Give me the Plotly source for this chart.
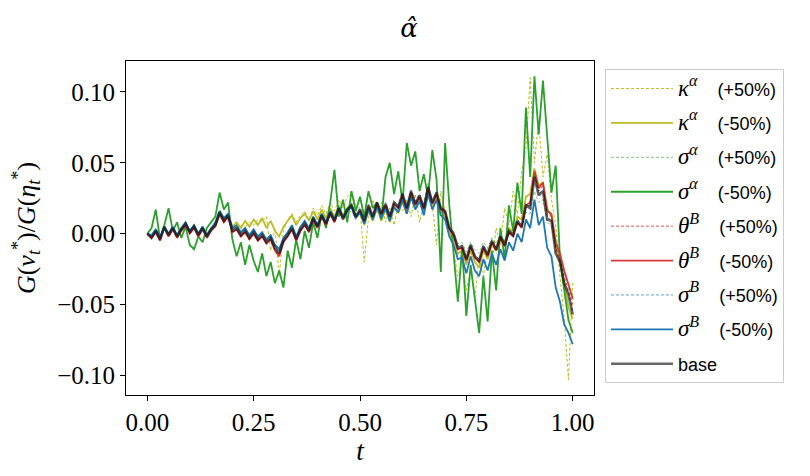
import numpy as np
import plotly.graph_objects as go

# time grid (101 sample points on [0, 1])
t = np.linspace(0, 1, 101)

# G(nu*)/G(eta*) paths
base = [
    0.000, -0.003, 0.002, -0.004, 0.005, -0.001, 0.004, -0.002, 0.003, 0.007,
    0.001, 0.005, -0.001, 0.004, -0.002, 0.003, 0.006, 0.015, 0.009, 0.013,
    0.002, 0.004, -0.001, 0.002, -0.003, 0.001, -0.004, -0.001, -0.006, -0.003,
    -0.010, -0.014, -0.005, -0.001, 0.004, -0.004, 0.003, 0.007, 0.002, 0.011,
    0.005, 0.013, 0.007, 0.015, 0.009, 0.018, 0.011, 0.017, 0.020, 0.012,
    0.017, 0.009, 0.020, 0.012, 0.022, 0.014, 0.021, 0.012, 0.022, 0.019,
    0.028, 0.018, 0.030, 0.021, 0.027, 0.018, 0.033, 0.022, 0.029, 0.018,
    0.016, 0.004, 0.000, -0.010, -0.009, -0.018, -0.008, -0.016, -0.019, -0.009,
    -0.015, -0.005, -0.011, -0.002, -0.008, 0.002, -0.001, 0.009, 0.005, 0.020,
    0.018, 0.040, 0.027, 0.030, 0.010, 0.009, -0.014, -0.020, -0.035, -0.043,
    -0.057,
]

kappa_plus = [
    0.000, -0.002, 0.002, -0.003, 0.005, 0.000, 0.004, -0.001, 0.003, 0.007,
    0.002, 0.005, 0.000, 0.004, -0.001, 0.004, 0.007, 0.016, 0.011, 0.013,
    0.006, 0.004, 0.006, 0.005, 0.008, 0.006, 0.010, 0.008, 0.012, -0.012,
    0.004, -0.030, 0.002, 0.010, 0.014, 0.008, 0.013, 0.016, 0.010, 0.018,
    0.013, 0.020, 0.014, 0.022, 0.016, 0.024, 0.018, 0.026, 0.030, 0.020,
    0.018, -0.020, 0.012, 0.024, 0.014, 0.022, 0.008, 0.018, 0.006, 0.020,
    0.016, 0.024, 0.012, 0.028, 0.008, 0.022, 0.036, 0.020, -0.008, 0.030,
    0.016, 0.004, -0.012, -0.030, -0.020, -0.040, -0.025, -0.045, -0.018, -0.030,
    -0.010, -0.022, 0.004, -0.008, 0.018, 0.006, 0.030, 0.014, 0.044, 0.060,
    0.110, 0.050, 0.080, 0.040, 0.056, 0.024, 0.006, -0.030, -0.060, -0.103,
    -0.034,
]

kappa_minus = [
    0.000, -0.002, 0.003, -0.003, 0.005, 0.000, 0.004, -0.001, 0.004, 0.008,
    0.002, 0.006, 0.000, 0.005, -0.001, 0.004, 0.007, 0.016, 0.010, 0.014,
    0.005, 0.008, 0.004, 0.009, 0.005, 0.010, 0.006, 0.011, 0.004, 0.009,
    0.002, -0.002, 0.005, 0.009, 0.013, 0.006, 0.011, 0.014, 0.009, 0.016,
    0.010, 0.017, 0.011, 0.018, 0.012, 0.020, 0.013, 0.018, 0.021, 0.013,
    0.015, 0.006, 0.016, 0.009, 0.018, 0.009, 0.017, 0.008, 0.018, 0.015,
    0.022, 0.014, 0.026, 0.018, 0.024, 0.014, 0.030, 0.020, 0.025, 0.016,
    0.012, 0.002, -0.004, -0.014, -0.012, -0.022, -0.012, -0.020, -0.024, -0.012,
    -0.018, -0.008, -0.012, -0.002, -0.006, 0.004, 0.001, 0.012, 0.010, 0.026,
    0.028, 0.046, 0.034, 0.036, 0.018, 0.012, -0.008, -0.018, -0.034, -0.052,
    -0.060,
]

sigma_a_plus = [
    0.000, -0.002, 0.001, -0.003, 0.004, -0.001, 0.003, -0.002, 0.002, 0.006,
    0.001, 0.004, -0.001, 0.003, -0.002, 0.002, 0.005, 0.012, 0.008, 0.010,
    0.002, 0.003, -0.001, 0.001, -0.003, 0.000, -0.004, -0.002, -0.005, -0.003,
    -0.008, -0.010, -0.004, -0.001, 0.003, -0.003, 0.002, 0.006, 0.002, 0.009,
    0.004, 0.011, 0.006, 0.012, 0.008, 0.015, 0.009, 0.014, 0.016, 0.010,
    0.014, 0.008, 0.016, 0.010, 0.018, 0.012, 0.017, 0.010, 0.018, 0.016,
    0.022, 0.015, 0.024, 0.017, 0.022, 0.015, 0.026, 0.018, 0.023, 0.015,
    0.012, 0.004, 0.000, -0.007, -0.006, -0.013, -0.006, -0.011, -0.014, -0.006,
    -0.010, -0.003, -0.007, 0.000, -0.005, 0.002, 0.000, 0.007, 0.004, 0.015,
    0.014, 0.030, 0.022, 0.024, 0.008, 0.006, -0.010, -0.016, -0.028, -0.035,
    -0.045,
]

sigma_a_minus = [
    0.000, 0.004, 0.017, -0.004, 0.006, 0.018, 0.002, 0.008, -0.003, 0.005,
    -0.008, -0.011, -0.002, -0.006, 0.004, 0.008, 0.012, 0.029, 0.017, 0.022,
    -0.004, -0.016, -0.006, -0.022, -0.008, -0.019, -0.027, -0.014, -0.030, -0.020,
    -0.035, -0.026, -0.038, -0.012, -0.024, -0.004, -0.018, 0.002, -0.010, 0.008,
    -0.003, 0.014, 0.004, 0.022, 0.045, 0.012, 0.024, 0.008, 0.030, 0.016,
    0.026, 0.012, 0.030, 0.018, 0.022, 0.010, 0.040, 0.050, 0.028, 0.044,
    0.022, 0.064, 0.048, 0.058, 0.030, 0.042, 0.026, 0.059, 0.038, -0.027,
    0.064, 0.020, -0.015, -0.048, -0.010, -0.058, -0.022, -0.045, -0.070, -0.030,
    -0.062, -0.012, -0.040, 0.004, -0.018, 0.020, 0.002, 0.036, 0.014, 0.089,
    0.040, 0.111, 0.070, 0.108, 0.068, 0.029, 0.048, -0.018, -0.040, -0.061,
    -0.070,
]

theta_plus = [
    0.000, -0.003, 0.001, -0.004, 0.004, -0.002, 0.003, -0.003, 0.002, 0.006,
    0.000, 0.004, -0.002, 0.003, -0.003, 0.002, 0.005, 0.013, 0.008, 0.012,
    0.001, 0.003, -0.002, 0.001, -0.004, 0.000, -0.005, -0.002, -0.007, -0.004,
    -0.011, -0.015, -0.006, -0.002, 0.003, -0.005, 0.002, 0.006, 0.001, 0.010,
    0.004, 0.012, 0.006, 0.014, 0.008, 0.017, 0.010, 0.016, 0.019, 0.011,
    0.016, 0.008, 0.019, 0.011, 0.021, 0.013, 0.020, 0.011, 0.021, 0.018,
    0.027, 0.017, 0.029, 0.020, 0.026, 0.017, 0.032, 0.021, 0.028, 0.017,
    0.014, 0.003, -0.001, -0.011, -0.010, -0.019, -0.009, -0.017, -0.020, -0.010,
    -0.016, -0.006, -0.012, -0.003, -0.009, 0.001, -0.002, 0.008, 0.004, 0.019,
    0.020, 0.042, 0.030, 0.034, 0.014, 0.012, -0.010, -0.018, -0.030, -0.040,
    -0.050,
]

theta_minus = [
    0.000, -0.003, 0.001, -0.005, 0.004, -0.002, 0.003, -0.003, 0.002, 0.006,
    0.000, 0.004, -0.002, 0.003, -0.003, 0.002, 0.005, 0.014, 0.008, 0.012,
    0.001, 0.003, -0.002, 0.001, -0.004, 0.000, -0.005, -0.002, -0.007, -0.004,
    -0.012, -0.016, -0.006, -0.002, 0.003, -0.005, 0.002, 0.006, 0.001, 0.010,
    0.004, 0.012, 0.006, 0.014, 0.008, 0.017, 0.010, 0.016, 0.019, 0.011,
    0.016, 0.008, 0.019, 0.011, 0.021, 0.013, 0.020, 0.011, 0.021, 0.018,
    0.027, 0.017, 0.029, 0.020, 0.026, 0.017, 0.032, 0.021, 0.028, 0.017,
    0.015, 0.003, -0.001, -0.011, -0.010, -0.019, -0.009, -0.017, -0.020, -0.010,
    -0.016, -0.006, -0.012, -0.003, -0.009, 0.001, -0.002, 0.008, 0.004, 0.020,
    0.022, 0.044, 0.032, 0.036, 0.016, 0.014, -0.006, -0.014, -0.026, -0.036,
    -0.046,
]

sigma_b_plus = [
    0.000, -0.002, 0.002, -0.003, 0.005, 0.000, 0.004, -0.001, 0.003, 0.007,
    0.001, 0.005, -0.001, 0.004, -0.001, 0.003, 0.006, 0.015, 0.010, 0.013,
    0.003, 0.005, 0.000, 0.003, -0.002, 0.002, -0.003, 0.000, -0.005, -0.002,
    -0.009, -0.013, -0.004, 0.000, 0.005, -0.003, 0.004, 0.008, 0.003, 0.012,
    0.006, 0.014, 0.008, 0.016, 0.010, 0.019, 0.012, 0.018, 0.021, 0.013,
    0.018, 0.010, 0.021, 0.013, 0.023, 0.015, 0.022, 0.013, 0.023, 0.020,
    0.029, 0.019, 0.031, 0.022, 0.028, 0.019, 0.034, 0.023, 0.030, 0.019,
    0.017, 0.005, 0.001, -0.009, -0.008, -0.017, -0.007, -0.015, -0.018, -0.008,
    -0.014, -0.004, -0.010, -0.001, -0.007, 0.003, 0.000, 0.010, 0.006, 0.021,
    0.019, 0.041, 0.028, 0.031, 0.011, 0.010, -0.013, -0.019, -0.034, -0.042,
    -0.055,
]

sigma_b_minus = [
    0.000, -0.001, 0.003, -0.002, 0.004, 0.000, 0.005, -0.001, 0.004, 0.008,
    0.002, 0.006, 0.000, 0.005, -0.001, 0.004, 0.008, 0.016, 0.011, 0.014,
    0.004, 0.006, 0.001, 0.004, -0.001, 0.003, -0.002, 0.001, -0.004, -0.001,
    -0.008, -0.011, -0.003, 0.001, 0.006, -0.002, 0.005, 0.009, 0.004, 0.012,
    0.006, 0.014, 0.008, 0.016, 0.010, 0.018, 0.011, 0.016, 0.019, 0.011,
    0.015, 0.007, 0.017, 0.010, 0.019, 0.011, 0.018, 0.009, 0.019, 0.015,
    0.024, 0.014, 0.026, 0.017, 0.023, 0.013, 0.028, 0.017, 0.024, 0.013,
    0.010, -0.002, -0.008, -0.018, -0.017, -0.028, -0.016, -0.026, -0.030, -0.018,
    -0.026, -0.014, -0.022, -0.011, -0.019, -0.006, -0.012, 0.000, -0.006, 0.010,
    0.004, 0.024, 0.006, 0.012, -0.010, -0.016, -0.038, -0.048, -0.064, -0.070,
    -0.078,
]

SERIF = "Liberation Serif"
SANS = "Liberation Sans"


def lbl(sym, sup, pct):
    return (f'<span style="font-family:{SERIF};font-size:23px"><i>{sym}</i>'
            f'<sup><i>{sup}</i></sup></span>\u00a0\u00a0\u00a0 ({pct})')


series = [
    (kappa_plus, lbl("κ", "α", "+50%"), "#bcbd22", "3px,2px", 1.0, 1.0),
    (kappa_minus, lbl("κ", "α", "-50%"), "#bcbd22", "solid", 1.8, 1.0),
    (sigma_a_plus, lbl("σ", "α", "+50%"), "#2ca02c", "3px,2px", 1.0, 0.6),
    (sigma_a_minus, lbl("σ", "α", "-50%"), "#2ca02c", "solid", 1.8, 1.0),
    (theta_plus, lbl("θ", "B", "+50%"), "#d62728", "3px,2px", 1.0, 0.8),
    (theta_minus, lbl("θ", "B", "-50%"), "#d62728", "solid", 1.8, 0.9),
    (sigma_b_plus, lbl("σ", "B", "+50%"), "#1f77b4", "3px,2px", 1.0, 0.7),
    (sigma_b_minus, lbl("σ", "B", "-50%"), "#1f77b4", "solid", 1.8, 1.0),
]

fig = go.Figure()
for y, name, color, dash, width, op in series:
    fig.add_trace(go.Scatter(
        x=t, y=y, name=name, mode="lines", legendgroup=name, opacity=op,
        line=dict(color=color, dash=dash, width=width),
    ))
fig.add_trace(go.Scatter(
    x=t, y=base, name="base", mode="lines", legendgroup="base",
    line=dict(color="rgba(0,0,0,0.6)", width=2.6),
))

axis_common = dict(
    showline=True, linecolor="black", linewidth=1, mirror=True,
    ticks="outside", ticklen=5, tickcolor="black", showgrid=False,
    zeroline=False, automargin=False,
    tickfont=dict(family=SERIF, size=25, color="black"),
)

# page body adds an 8px margin, so the figure is a bit smaller than the window
fig.update_layout(
    width=802, height=468,
    margin=dict(l=118, r=216, t=53, b=81),
    paper_bgcolor="white", plot_bgcolor="white",
    title=dict(text="<i>α̂</i>", x=0.5, xref="container", y=0.957, yref="container",
               xanchor="center", yanchor="middle",
               font=dict(family="DejaVu Serif", size=26, color="black")),
    xaxis=dict(range=[-0.05, 1.05], tickvals=[0, 0.25, 0.5, 0.75, 1.0],
               ticktext=["0.00", "0.25", "0.50", "0.75", "1.00"],
               title=dict(text="<i>t</i>", font=dict(family=SERIF, size=27, color="black"),
                          standoff=2),
               **axis_common),
    yaxis=dict(range=[-0.1138, 0.1218], tickvals=[0.10, 0.05, 0.0, -0.05, -0.10],
               ticktext=["0.10", "0.05", "0.00", "−0.05", "−0.10"],
               title=dict(text="<i>G</i>(<i>ν</i><sub><i>t</i></sub><sup>*</sup>)/<i>G</i>(<i>η</i><sub><i>t</i></sub><sup>*</sup>)",
                          font=dict(family=SERIF, size=26, color="black"), standoff=14),
               **axis_common),
    legend=dict(x=1.0235, y=0.975, xanchor="left", yanchor="top",
                bordercolor="#cccccc", borderwidth=1, bgcolor="white",
                font=dict(family=SANS, size=18, color="black"),
                itemwidth=62, tracegroupgap=8),
    showlegend=True,
)

fig.write_html("out.html")
